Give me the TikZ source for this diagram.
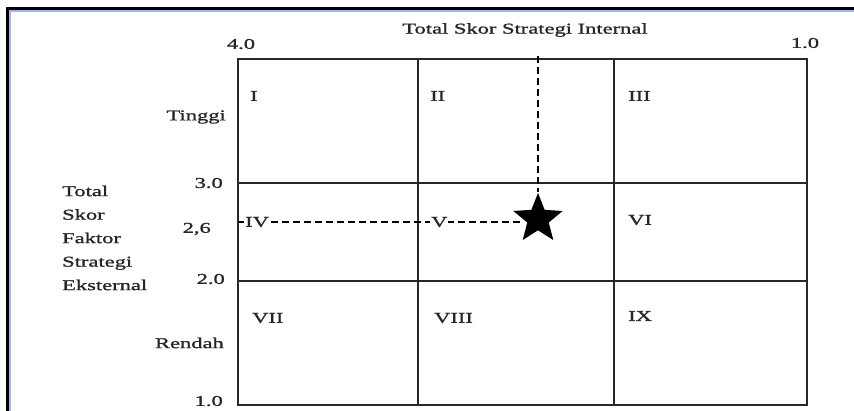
\documentclass[tikz,border=0pt]{standalone}
\usepackage{fontspec}
\setmainfont{Liberation Serif}[FakeStretch=1.5, FakeBold=1.2]
\usetikzlibrary{shapes.geometric}
\definecolor{framebl}{RGB}{160,185,225}
\definecolor{gridc}{RGB}{40,40,40}
\begin{document}
\begin{tikzpicture}[x=1pt,y=-1pt,
  lbl/.style={font=\fontsize{15}{18}\selectfont, inner sep=0pt, text=black!85},
  numr/.style={lbl, anchor=east},
  gridline/.style={line width=1.8pt, draw=gridc},
  dsh/.style={line width=2.3pt, dash pattern=on 7pt off 4pt}]
\useasboundingbox (0,0) rectangle (854,411);
\fill[white] (0,0) rectangle (854,411);
% outer frame
\draw[line width=3pt, color=black] (7,412) -- (7,8.5) -- (855,8.5);
\draw[line width=1.6pt, color=framebl] (9.8,412) -- (9.8,11.3) -- (855,11.3);
% grid coordinates
\coordinate (a0) at (238,59);
\coordinate (a3) at (807,405);
\coordinate (x1) at (418,59);
\coordinate (x2) at (614,59);
\coordinate (y1) at (238,183);
\coordinate (y2) at (238,281);
\draw[gridline] (a0) rectangle (a3);
\draw[gridline] (x1) -- (x1 |- a3);
\draw[gridline] (x2) -- (x2 |- a3);
\draw[gridline] (y1) -- (y1 -| a3);
\draw[gridline] (y2) -- (y2 -| a3);
% star and dashed guides
\node[star, star points=5, star point ratio=2.3, fill=black, minimum size=52pt, inner sep=0pt] (st) at (538,219) {};
\coordinate (vt) at (538,56);
\coordinate (hs) at (238,222);
\draw[dsh] (vt) -- (st.north);
\draw[dsh] (hs) -- (hs -| st.west);
% titles
\node[lbl] (title) at (525,30) {Total Skor Strategi Internal};
\node[lbl] (n40) at (241,44) {4.0};
\node[lbl] (n10t) at (805,43) {1.0};
% left axis
\node[lbl, anchor=east] (ting) at (226,117) {Tinggi};
\node[lbl, anchor=east] (rend) at (224,343) {Rendah};
\node[numr] (n30) at (223,183) {3.0};
\node[numr] (n26) at (211,229) {2,6};
\node[numr] (n20) at (225,279) {2.0};
\node[numr] (n10b) at (223,401) {1.0};
\node[lbl, anchor=west, align=left, font=\fontsize{15}{23.5}\selectfont] (ylab) at (62,238)
  {Total\\Skor\\Faktor\\Strategi\\Eksternal};
% cell labels
\node[lbl, anchor=west] (c1) at (250,96) {I};
\node[lbl, anchor=west] (c2) at (430,96) {II};
\node[lbl, anchor=west] (c3) at (628,96) {III};
\node[lbl, anchor=west, fill=white, inner xsep=1pt] (c4) at (244,222) {IV};
\node[lbl, anchor=west, fill=white, inner xsep=1pt] (c5) at (430,222) {V};
\node[lbl, anchor=west] (c6) at (628,220) {VI};
\node[lbl, anchor=west] (c7) at (252,318) {VII};
\node[lbl, anchor=west] (c8) at (434,318) {VIII};
\node[lbl, anchor=west] (c9) at (628,316) {IX};
\end{tikzpicture}
\end{document}
